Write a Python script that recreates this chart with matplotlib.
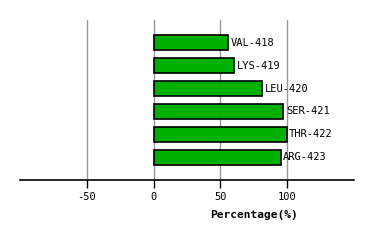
import matplotlib
matplotlib.use("Agg")
import matplotlib.pyplot as plt

# --- Данные ---
residues = ["VAL-418", "LYS-419", "LEU-420", "SER-421", "THR-422", "ARG-423"]
percent = [56, 60.5, 81.5, 97, 99.5, 95]
xticks = [-50, 0, 50, 100]

fig = plt.figure(figsize=(3.74, 2.4), dpi=100)
ax = fig.add_axes([20 / 374, 60 / 240, 334 / 374, 160 / 240])

ypos = list(range(len(residues)))
ax.barh(ypos, percent, height=0.66, color="#00b000", edgecolor="black", linewidth=1.2, zorder=3)

for y, v, name in zip(ypos, percent, residues):
    ax.text(v + 2, y, name, va="center", ha="left", fontsize=7.5, family="DejaVu Sans Mono")

ax.set_xlim(-100, 150)
ax.set_ylim(len(residues), -1)
ax.set_yticks([])
ax.set_xticks(xticks)
ax.set_xticklabels([str(t) for t in xticks], family="DejaVu Sans Mono", fontsize=7.5)
ax.tick_params(axis="x", length=6, width=1, pad=3)
for t in xticks:
    ax.axvline(t, color="#999999", linewidth=1, zorder=1)

for s in ["top", "left", "right"]:
    ax.spines[s].set_visible(False)
ax.spines["bottom"].set_linewidth(1.2)

ax.set_xlabel("Percentage(%)", family="DejaVu Sans Mono", fontsize=8, fontweight="bold")
ax.xaxis.set_label_coords(0.70, -0.19)

fig.savefig("out.png", dpi=100)
